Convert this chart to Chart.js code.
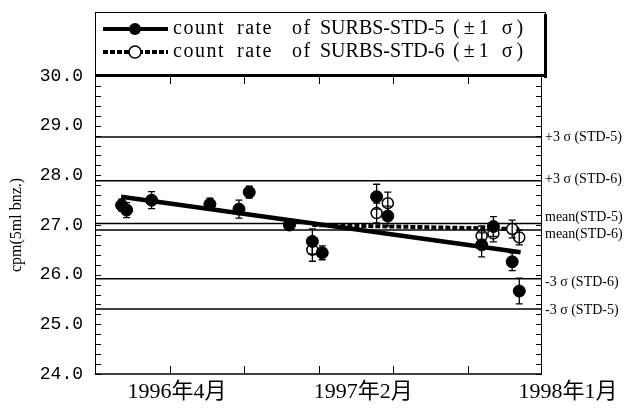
<!DOCTYPE html>
<html>

<head>
  <meta charset="utf-8">
  <title>count rate of SURBS-STD</title>
  <script src="https://cdn.jsdelivr.net/npm/chart.js"></script>
  <style>
    body { margin: 0; background: #fff; }
  </style>
</head>

<body>
  <canvas id="myChart" width="631" height="408"></canvas>
  <script>

    // x values are months counted from 1996年1月 (= 0)
    let xMin = -1.4;
    let xMax = 22.6;
    let xLabelMonths = [3, 13, 24];
    let xLabels = ['1996年4月', '1997年2月', '1998年1月'];

    // SURBS-STD-5 (filled)
    let std5X = [0.03, 0.30, 1.64, 4.77, 6.33, 6.88, 9.04, 10.27, 10.80, 13.72, 14.32, 19.36, 19.99, 21.00, 21.38];
    let std5Y = [27.40, 27.30, 27.50, 27.42, 27.32, 27.66, 27.00, 26.67, 26.44, 27.57, 27.18, 26.60, 26.97, 26.26, 25.67];
    let std5Err = [0.12, 0.15, 0.17, 0.12, 0.18, 0.12, 0.08, 0.25, 0.14, 0.25, 0.20, 0.24, 0.20, 0.18, 0.26];

    // SURBS-STD-6 (open)
    let std6X = [10.27, 13.72, 14.32, 19.36, 19.99, 21.00, 21.38];
    let std6Y = [26.50, 27.24, 27.44, 26.78, 26.83, 26.92, 26.75];
    let std6Err = [0.23, 0.20, 0.22, 0.20, 0.17, 0.18, 0.15];

    // trend lines
    let trend5X = [0.0, 21.45];
    let trend5Y = [27.57, 26.45];
    let trend6X = [10.27, 21.38];
    let trend6Y = [27.00, 26.92];

    // mean and 3 sigma levels
    let refValues = [28.77, 27.89, 27.03, 26.90, 25.92, 25.31];
    let refLabels = ['+3 σ (STD-5)', '+3 σ (STD-6)', 'mean(STD-5)', 'mean(STD-6)', '-3 σ (STD-6)', '-3 σ (STD-5)'];
    let refLabelShift = [0, -1, -6, 4, 4, 1];

    let toPoints = (xs, ys) => xs.map((x, i) => ({ x: x, y: ys[i] }));

    let refSets = refValues.map(v => ({
      data: [{ x: xMin, y: v }, { x: xMax, y: v }],
      showLine: true,
      borderColor: '#000',
      borderWidth: 1.5,
      pointRadius: 0,
      order: 10
    }));

    let errorBars = {
      id: 'errorBars',
      afterDatasetsDraw(chart) {
        let ctx = chart.ctx;
        let ys = chart.scales.y, xs = chart.scales.x;
        ctx.save();
        ctx.strokeStyle = '#000';
        ctx.lineWidth = 1.3;
        [[std5X, std5Y, std5Err], [std6X, std6Y, std6Err]].forEach(([X, Y, E]) => {
          X.forEach((x, i) => {
            let px = xs.getPixelForValue(x);
            let top = ys.getPixelForValue(Y[i] + E[i]);
            let bot = ys.getPixelForValue(Y[i] - E[i]);
            ctx.beginPath();
            ctx.moveTo(px, top); ctx.lineTo(px, bot);
            ctx.moveTo(px - 3.5, top); ctx.lineTo(px + 3.5, top);
            ctx.moveTo(px - 3.5, bot); ctx.lineTo(px + 3.5, bot);
            ctx.stroke();
          });
        });
        ctx.restore();
      }
    };

    let frame = {
      id: 'frame',
      afterDraw(chart) {
        let ctx = chart.ctx;
        let a = chart.chartArea;
        let xs = chart.scales.x, ys = chart.scales.y;
        ctx.save();
        ctx.strokeStyle = '#000';
        ctx.fillStyle = '#000';

        // axes box
        ctx.lineWidth = 1;
        ctx.beginPath();
        ctx.moveTo(a.left + 0.5, a.top); ctx.lineTo(a.left + 0.5, a.bottom);
        ctx.moveTo(a.right - 0.5, a.top); ctx.lineTo(a.right - 0.5, a.bottom);
        ctx.stroke();
        ctx.lineWidth = 1.5;
        ctx.beginPath();
        ctx.moveTo(a.left, a.bottom); ctx.lineTo(a.right, a.bottom);
        ctx.stroke();

        // inward ticks
        ctx.lineWidth = 1;
        ctx.beginPath();
        for (let v = 24; v <= 30.001; v += 0.2) {
          let py = Math.round(ys.getPixelForValue(v)) + 0.5;
          ctx.moveTo(a.left, py); ctx.lineTo(a.left + 6, py);
          ctx.moveTo(a.right - 6, py); ctx.lineTo(a.right, py);
        }
        for (let m = xMin + 4; m < xMax - 0.01; m += 4) {
          let px = Math.round(xs.getPixelForValue(m)) + 0.5;
          ctx.moveTo(px, a.bottom); ctx.lineTo(px, a.bottom - 8);
          ctx.moveTo(px, a.top); ctx.lineTo(px, a.top + 8);
        }
        ctx.stroke();

        // x labels
        ctx.font = '22px "Liberation Serif", "Noto Sans CJK JP"';
        ctx.textAlign = 'center';
        ctx.textBaseline = 'alphabetic';
        xLabelMonths.forEach((m, i) => {
          ctx.fillText(xLabels[i], xs.getPixelForValue(m), a.bottom + 24);
        });

        // reference line labels
        ctx.font = '14px "Liberation Serif"';
        ctx.textAlign = 'left';
        ctx.textBaseline = 'middle';
        refValues.forEach((v, i) => {
          ctx.fillText(refLabels[i], a.right + 3, ys.getPixelForValue(v) + refLabelShift[i]);
        });

        // legend box
        let bx = a.left, by = 12, bw = a.right + 3 - a.left, bh = a.top - by;
        ctx.lineWidth = 1;
        ctx.strokeRect(bx + 0.5, by + 0.5, bw, bh);
        ctx.fillRect(bx + bw - 1, by + 2, 3, bh);
        ctx.fillRect(bx, a.top - 2, bw + 2, 3);

        let rows = [29, 52];
        // solid sample
        ctx.lineWidth = 4;
        ctx.beginPath();
        ctx.moveTo(103, rows[0]); ctx.lineTo(168, rows[0]);
        ctx.stroke();
        ctx.beginPath();
        ctx.arc(135, rows[0], 6, 0, Math.PI * 2);
        ctx.fill();
        // dashed sample
        ctx.setLineDash([5, 2]);
        ctx.beginPath();
        ctx.moveTo(103, rows[1]); ctx.lineTo(168, rows[1]);
        ctx.stroke();
        ctx.setLineDash([]);
        ctx.fillStyle = '#fff';
        ctx.lineWidth = 1.5;
        ctx.beginPath();
        ctx.arc(135, rows[1], 6, 0, Math.PI * 2);
        ctx.fill();
        ctx.stroke();
        ctx.fillStyle = '#000';

        ctx.font = '20px "Liberation Serif"';
        ctx.textBaseline = 'middle';
        ctx.letterSpacing = '1.5px';
        let words = [['count', 173], ['rate', 237], ['of', 292]];
        rows.forEach((ry, r) => {
          words.forEach(([w, wx]) => ctx.fillText(w, wx, ry));
          ctx.letterSpacing = '0px';
          ctx.fillText(r === 0 ? 'SURBS-STD-5' : 'SURBS-STD-6', 320, ry);
          ctx.letterSpacing = '4px';
          ctx.fillText('(±1 σ)', 453, ry);
          ctx.letterSpacing = '1.5px';
        });
        ctx.restore();
      }
    };

    let ctx = document.getElementById('myChart').getContext('2d');
    let myChart = new Chart(ctx, {
      type: 'scatter',
      data: {
        datasets: [{
          label: 'count rate of SURBS-STD-5 (±1σ)',
          data: toPoints(std5X, std5Y),
          pointRadius: 6,
          pointBackgroundColor: '#000',
          pointBorderColor: '#000',
          pointBorderWidth: 1,
          order: 0
        }, {
          label: 'count rate of SURBS-STD-6 (±1σ)',
          data: toPoints(std6X, std6Y),
          pointRadius: 5.5,
          pointBackgroundColor: '#fff',
          pointBorderColor: '#000',
          pointBorderWidth: 1.5,
          order: 1
        }, {
          label: 'trend STD-5',
          data: toPoints(trend5X, trend5Y),
          showLine: true,
          borderColor: '#000',
          borderWidth: 4.5,
          pointRadius: 0,
          order: 3
        }, {
          label: 'trend STD-6',
          data: toPoints(trend6X, trend6Y),
          showLine: true,
          borderColor: '#000',
          borderWidth: 4,
          borderDash: [5, 2],
          pointRadius: 0,
          order: 2
        }, ...refSets]
      },
      options: {
        responsive: false,
        animation: false,
        layout: { padding: { top: 76, right: 89, left: 0, bottom: 0 } },
        plugins: {
          legend: { display: false },
          tooltip: { enabled: false }
        },
        scales: {
          x: {
            type: 'linear',
            min: xMin,
            max: xMax,
            ticks: { display: false },
            grid: { display: false, drawTicks: false },
            border: { display: false },
            afterFit(s) { s.height = 34; }
          },
          y: {
            min: 24,
            max: 30,
            ticks: {
              stepSize: 1,
              callback: v => v.toFixed(1),
              font: { family: 'Liberation Mono', size: 18 },
              color: '#000',
              padding: 12
            },
            grid: { display: false, drawTicks: false },
            border: { display: false },
            title: {
              display: true,
              text: 'cpm(5ml bnz.)',
              font: { family: 'Liberation Serif', size: 16 },
              color: '#000',
              padding: { top: 7, bottom: 0 }
            },
            afterFit(s) { s.width = 95; }
          }
        }
      },
      plugins: [errorBars, frame]
    });

  </script>
</body>

</html>
